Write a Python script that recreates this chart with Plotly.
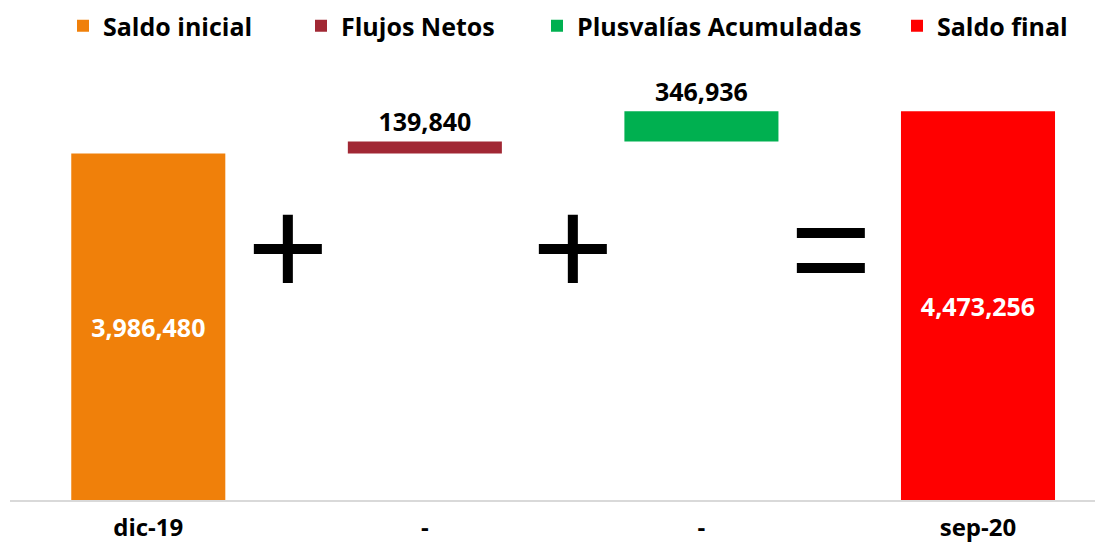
import plotly.graph_objects as go

# ---- data ----
categories = ["dic-19", "-", "-", "sep-20"]
series_names = ["Saldo inicial", "Flujos Netos", "Plusvalías Acumuladas", "Saldo final"]
saldo_inicial = 3986480
flujos_netos = 139840
plusvalias = 346936
saldo_final = 4473256
colors = ["#F0800A", "#A12834", "#00B050", "#FF0000"]

FONT = "Open Sans"

values = [saldo_inicial, flujos_netos, plusvalias, saldo_final]
bases = [0, saldo_inicial, saldo_inicial + flujos_netos, 0]
textpos = ["inside", "outside", "outside", "inside"]
textcol = ["white", "black", "black", "white"]

fig = go.Figure()
legend_ids = ["legend", "legend2", "legend3", "legend4"]
for i in range(4):
    tf = dict(family=FONT, size=25, color=textcol[i], weight="bold")
    fig.add_trace(go.Bar(
        x=[i], y=[values[i]], base=[bases[i]],
        name=series_names[i],
        marker=dict(color=colors[i], line=dict(width=0)),
        width=0.557,
        texttemplate="%{y:,}",
        textposition=textpos[i],
        insidetextanchor="middle",
        textfont=tf, outsidetextfont=tf, insidetextfont=tf,
        cliponaxis=False,
        legend=legend_ids[i],
        hoverinfo="skip",
    ))

FIG_H = 552
# page body adds an 8px offset; compensate in the layout
legend_px = [55, 293, 529, 889]
layout_legends = {}
for lid, px in zip(legend_ids, legend_px):
    layout_legends[lid] = dict(
        x=px / 1103, xref="container", xanchor="left",
        y=1 - 18 / FIG_H, yref="container", yanchor="middle",
        orientation="h",
        font=dict(family=FONT, size=25, color="black", weight="bold"),
        bgcolor="rgba(0,0,0,0)",
        itemclick=False, itemdoubleclick=False,
    )

annotations = []
for sym, xp, yp in [("+", 0.2543, 0.577), ("+", 0.5151, 0.577), ("=", 0.7511, 0.573)]:
    annotations.append(dict(
        text=sym, xref="paper", yref="paper", x=xp, y=yp,
        xanchor="center", yanchor="middle", showarrow=False,
        font=dict(family="Liberation Sans", size=140, color="black"),
    ))

fig.update_layout(
    width=1103, height=FIG_H,
    margin=dict(l=2, r=8, t=52, b=60, autoexpand=False),
    paper_bgcolor="white", plot_bgcolor="white",
    barmode="overlay",
    showlegend=True,
    annotations=annotations,
    xaxis=dict(
        range=[-0.5, 3.452],
        tickmode="array", tickvals=[0, 1, 2, 3], ticktext=categories,
        showgrid=False, zeroline=False,
        showline=True, linecolor="#D9D9D9", linewidth=2,
        ticks="outside", ticklen=5, tickcolor="rgba(0,0,0,0)",
        tickfont=dict(family=FONT, size=24, color="black", weight="bold"),
        automargin=False, fixedrange=True,
    ),
    yaxis=dict(
        range=[0, 5063000], visible=False, showgrid=False, zeroline=False,
        fixedrange=True,
    ),
    **layout_legends,
)

fig.write_html("out.html")
